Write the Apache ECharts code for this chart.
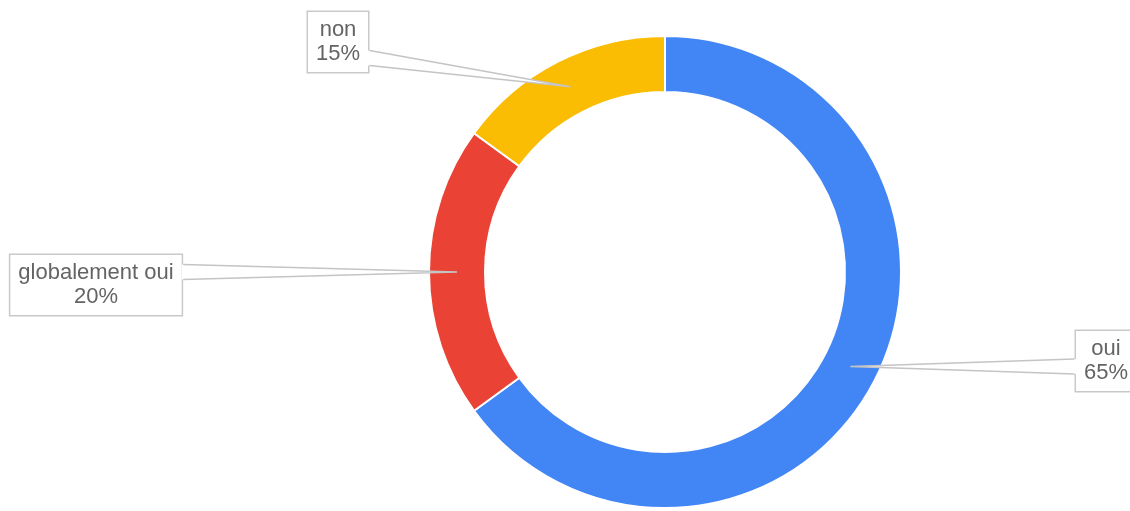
<!DOCTYPE html>
<html>
<head>
<meta charset="utf-8">
<title>Répartition des réponses</title>
<script src="https://cdn.jsdelivr.net/npm/echarts@6/dist/echarts.min.js"></script>
<style>
  html, body { margin: 0; padding: 0; background: #ffffff; }
  #chart { width: 1130px; height: 511px; }
</style>
</head>
<body>
<div id="chart"></div>
<script>
// Answers and their share of respondents (percent)
const categories = ['oui', 'globalement oui', 'non'];
const shares = [65, 20, 15];
const sliceColors = ['#4285F4', '#EA4335', '#FBBC04'];

// Where each callout box sits (centre of the box, px)
const calloutAnchors = [[1106, 361], [96, 285], [338, 42]];

const chart = echarts.init(document.getElementById('chart'), null, { renderer: 'canvas' });

const option = {
  animation: false,
  backgroundColor: '#ffffff',
  series: [{
    type: 'pie',
    center: [665, 272],
    radius: [180, 236],
    startAngle: 90,
    clockwise: true,
    avoidLabelOverlap: false,
    silent: true,
    itemStyle: { borderColor: '#ffffff', borderWidth: 2 },
    label: {
      show: true,
      position: 'outside',
      formatter: '{b}\n{d}%',
      fontFamily: '"Liberation Sans", Arial, sans-serif',
      fontSize: 22,
      lineHeight: 24,
      color: '#646464',
      align: 'center',
      backgroundColor: '#ffffff',
      borderColor: '#c9c9c9',
      borderWidth: 1.5,
      padding: [6, 8]
    },
    labelLine: { show: false },
    labelLayout: function (params) {
      const p = calloutAnchors[params.dataIndex];
      return { x: p[0], y: p[1], align: 'center', verticalAlign: 'middle' };
    },
    data: categories.map((name, i) => ({
      name: name,
      value: shares[i],
      itemStyle: { color: sliceColors[i] }
    }))
  }]
};

chart.setOption(option);

// Callout wedges: from the middle of each slice to the side of its label box
function buildWedges() {
  const data = chart.getModel().getSeriesByIndex(0).getData();
  const elements = [];
  const halfBase = 7.5, inset = 8;
  for (let i = 0; i < data.count(); i++) {
    const lay = data.getItemLayout(i);
    const mid = (lay.startAngle + lay.endAngle) / 2;
    const rm = (lay.r + lay.r0) / 2;
    const tip = [lay.cx + rm * Math.cos(mid), lay.cy + rm * Math.sin(mid)];

    // box of the label as laid out by the series
    let boxLeft, boxRight, boxTop, boxBottom;
    try {
      const txt = data.getItemGraphicEl(i).getTextContent();
      txt.updateTransform();
      const rect = txt.getBoundingRect().clone();
      const m = txt.getComputedTransform();
      if (m) rect.applyTransform(m);
      boxLeft = rect.x; boxRight = rect.x + rect.width;
      boxTop = rect.y; boxBottom = rect.y + rect.height;
    } catch (e) {
      const a = calloutAnchors[i];
      boxLeft = a[0] - 30; boxRight = a[0] + 30; boxTop = a[1] - 30; boxBottom = a[1] + 30;
    }

    const onRight = tip[0] > boxRight;
    const edgeX = onRight ? boxRight : boxLeft;
    const inward = onRight ? -1 : 1;
    const baseY = Math.min(Math.max(tip[1], boxTop + inset + halfBase), boxBottom - inset - halfBase);
    const a = [edgeX, baseY - halfBase];
    const b = [edgeX, baseY + halfBase];
    elements.push({
      type: 'polygon',
      z: 100,
      silent: true,
      shape: { points: [[edgeX + inward * 1.5, a[1]], tip, [edgeX + inward * 1.5, b[1]]] },
      style: { fill: '#ffffff', stroke: null }
    });
    elements.push({
      type: 'polyline',
      z: 101,
      silent: true,
      shape: { points: [a, tip, b] },
      style: { stroke: '#c4c4c4', lineWidth: 1.5, fill: null }
    });
  }
  chart.setOption({ graphic: { elements: elements } });
}
buildWedges();
</script>
</body>
</html>
